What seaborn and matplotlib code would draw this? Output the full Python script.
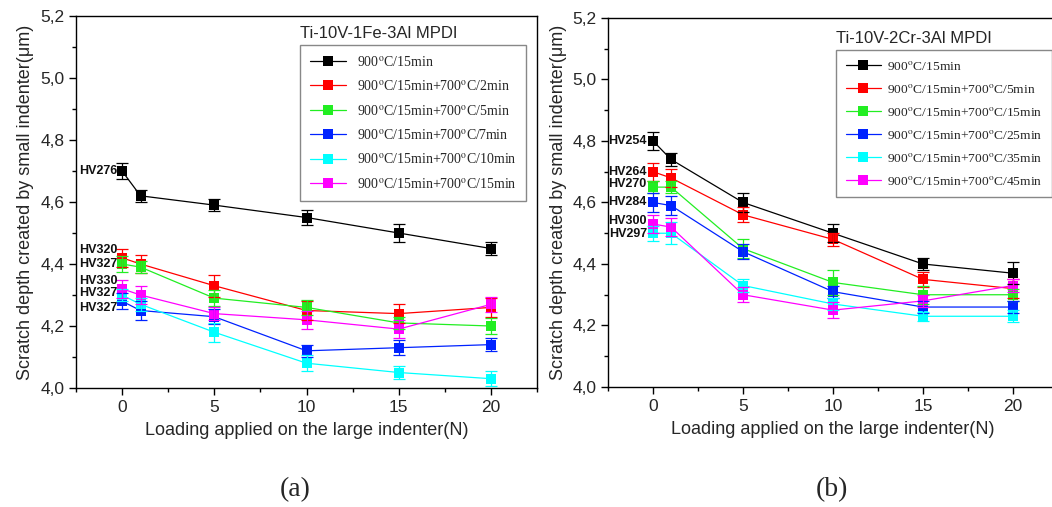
import numpy as np
import pandas as pd
import matplotlib
matplotlib.use("Agg")
import matplotlib.pyplot as plt
from matplotlib.ticker import MultipleLocator, FuncFormatter
import seaborn as sns

# loading on the large indenter (N)
loads = [0, 1, 5, 10, 15, 20]

# panel (a) Ti-10V-1Fe-3Al
labels_a = ["900$^{\\mathrm{o}}$C/15min",
            "900$^{\\mathrm{o}}$C/15min+700$^{\\mathrm{o}}$C/2min",
            "900$^{\\mathrm{o}}$C/15min+700$^{\\mathrm{o}}$C/5min",
            "900$^{\\mathrm{o}}$C/15min+700$^{\\mathrm{o}}$C/7min",
            "900$^{\\mathrm{o}}$C/15min+700$^{\\mathrm{o}}$C/10min",
            "900$^{\\mathrm{o}}$C/15min+700$^{\\mathrm{o}}$C/15min"]
depth_a = [
    [4.70, 4.62, 4.59, 4.55, 4.50, 4.45],
    [4.42, 4.40, 4.33, 4.25, 4.24, 4.26],
    [4.40, 4.39, 4.29, 4.26, 4.21, 4.20],
    [4.28, 4.25, 4.23, 4.12, 4.13, 4.14],
    [4.30, 4.27, 4.18, 4.08, 4.05, 4.03],
    [4.32, 4.30, 4.24, 4.22, 4.19, 4.27],
]
err_a = [
    [0.025, 0.02, 0.02, 0.025, 0.03, 0.02],
    [0.03, 0.03, 0.035, 0.03, 0.03, 0.03],
    [0.025, 0.02, 0.025, 0.025, 0.02, 0.025],
    [0.025, 0.03, 0.025, 0.02, 0.025, 0.02],
    [0.02, 0.02, 0.03, 0.025, 0.02, 0.025],
    [0.03, 0.03, 0.02, 0.03, 0.03, 0.025],
]
hv_a = ["HV276", "HV320", "HV327", "HV330", "HV327", "HV327"]
hv_a_y = [4.70, 4.445, 4.40, 4.346, 4.306, 4.258]

# panel (b) Ti-10V-2Cr-3Al
labels_b = ["900$^{\\mathrm{o}}$C/15min",
            "900$^{\\mathrm{o}}$C/15min+700$^{\\mathrm{o}}$C/5min",
            "900$^{\\mathrm{o}}$C/15min+700$^{\\mathrm{o}}$C/15min",
            "900$^{\\mathrm{o}}$C/15min+700$^{\\mathrm{o}}$C/25min",
            "900$^{\\mathrm{o}}$C/15min+700$^{\\mathrm{o}}$C/35min",
            "900$^{\\mathrm{o}}$C/15min+700$^{\\mathrm{o}}$C/45min"]
depth_b = [
    [4.80, 4.74, 4.60, 4.50, 4.40, 4.37],
    [4.70, 4.68, 4.56, 4.48, 4.35, 4.32],
    [4.65, 4.65, 4.45, 4.34, 4.30, 4.30],
    [4.60, 4.59, 4.44, 4.31, 4.26, 4.26],
    [4.50, 4.50, 4.33, 4.27, 4.23, 4.23],
    [4.53, 4.52, 4.30, 4.25, 4.28, 4.33],
]
err_b = [
    [0.03, 0.02, 0.03, 0.03, 0.02, 0.035],
    [0.03, 0.03, 0.025, 0.02, 0.025, 0.03],
    [0.02, 0.02, 0.03, 0.04, 0.03, 0.02],
    [0.03, 0.03, 0.025, 0.02, 0.02, 0.02],
    [0.025, 0.035, 0.02, 0.02, 0.015, 0.02],
    [0.03, 0.03, 0.025, 0.025, 0.02, 0.02],
]
hv_b = ["HV254", "HV264", "HV270", "HV284", "HV300", "HV297"]
hv_b_y = [4.80, 4.70, 4.66, 4.60, 4.54, 4.498]

colors = ["#000000", "#ff0000", "#22ee22", "#0022ff", "#00ffff", "#ff00ff"]

sns.set_theme(style="ticks")
plt.rcParams["font.family"] = ["Liberation Sans", "DejaVu Sans"]
plt.rcParams["mathtext.fontset"] = "stix"
plt.rcParams["xtick.direction"] = "out"
plt.rcParams["ytick.direction"] = "out"

fig = plt.figure(figsize=(10.52, 5.07), dpi=100)
ax_a = fig.add_axes([0.0722, 0.2347, 0.4383, 0.7337])
ax_b = fig.add_axes([0.578, 0.2367, 0.4277, 0.7278])


def draw_panel(ax, labels, depth, err, hv, hv_y, hv_x, title, leg_xy, leg_size, text_pad):
    rows = []
    for lab, ys in zip(labels, depth):
        for x, y in zip(loads, ys):
            rows.append({"load": x, "depth": y, "treatment": lab})
    df = pd.DataFrame(rows)
    sns.lineplot(data=df, x="load", y="depth", hue="treatment", hue_order=labels,
                 palette=colors, marker="s", markersize=7, markeredgewidth=0,
                 linewidth=0.9, dashes=False, ax=ax, legend=True)
    for ys, es, c in zip(depth, err, colors):
        ax.errorbar(loads, ys, yerr=es, fmt="none", ecolor=c, elinewidth=0.9,
                    capsize=4, capthick=0.9)
    for t, y in zip(hv, hv_y):
        ax.text(hv_x, y, t, ha="right", va="center", fontsize=9,
                fontweight="bold", color="#111111")

    ax.set_xlim(-2.5, 22.5)
    ax.set_ylim(4.0, 5.2)
    ax.xaxis.set_major_locator(MultipleLocator(5))
    ax.xaxis.set_minor_locator(MultipleLocator(2.5))
    ax.yaxis.set_major_locator(MultipleLocator(0.2))
    ax.yaxis.set_minor_locator(MultipleLocator(0.1))
    ax.yaxis.set_major_formatter(FuncFormatter(lambda v, p: f"{v:.1f}".replace(".", ",")))
    ax.tick_params(which="major", length=5, width=1, labelsize=12.5, color="black")
    ax.tick_params(which="minor", length=3, width=1, color="black")
    ax.tick_params(axis="x", which="both", top=False)
    ax.tick_params(axis="y", which="both", right=False)
    for s in ax.spines.values():
        s.set_visible(True)
        s.set_linewidth(1.0)
        s.set_color("black")
    ax.set_xlabel("Loading applied on the large indenter(N)", fontsize=13, labelpad=5)
    ax.set_ylabel("Scratch depth created by small indenter(μm)", fontsize=13, labelpad=4)

    ax.text(leg_xy[0], leg_xy[1] + 0.012, title, transform=ax.transAxes,
            ha="left", va="bottom", fontsize=12)
    handles, _ = ax.get_legend_handles_labels()
    ax.legend(handles, labels, loc="upper left", bbox_to_anchor=leg_xy,
              borderaxespad=0, fancybox=False, framealpha=1, edgecolor="#888888",
              prop={"family": ["Liberation Serif"], "size": leg_size},
              labelspacing=0.75, handlelength=2.6, borderpad=0.7,
              handletextpad=text_pad)


draw_panel(ax_a, labels_a, depth_a, err_a, hv_a, hv_a_y, -0.25,
           "Ti-10V-1Fe-3Al MPDI", (0.486, 0.922), 10, 0.8)
draw_panel(ax_b, labels_b, depth_b, err_b, hv_b, hv_b_y, -0.35,
           "Ti-10V-2Cr-3Al MPDI", (0.507, 0.913), 9.7, 0.45)

fig.text(295 / 1052, 1 - 490 / 507, "(a)", ha="center", va="center",
         fontsize=20, family=["Liberation Serif"])
fig.text(832 / 1052, 1 - 490 / 507, "(b)", ha="center", va="center",
         fontsize=20, family=["Liberation Serif"])

fig.savefig("out.png", dpi=100)
